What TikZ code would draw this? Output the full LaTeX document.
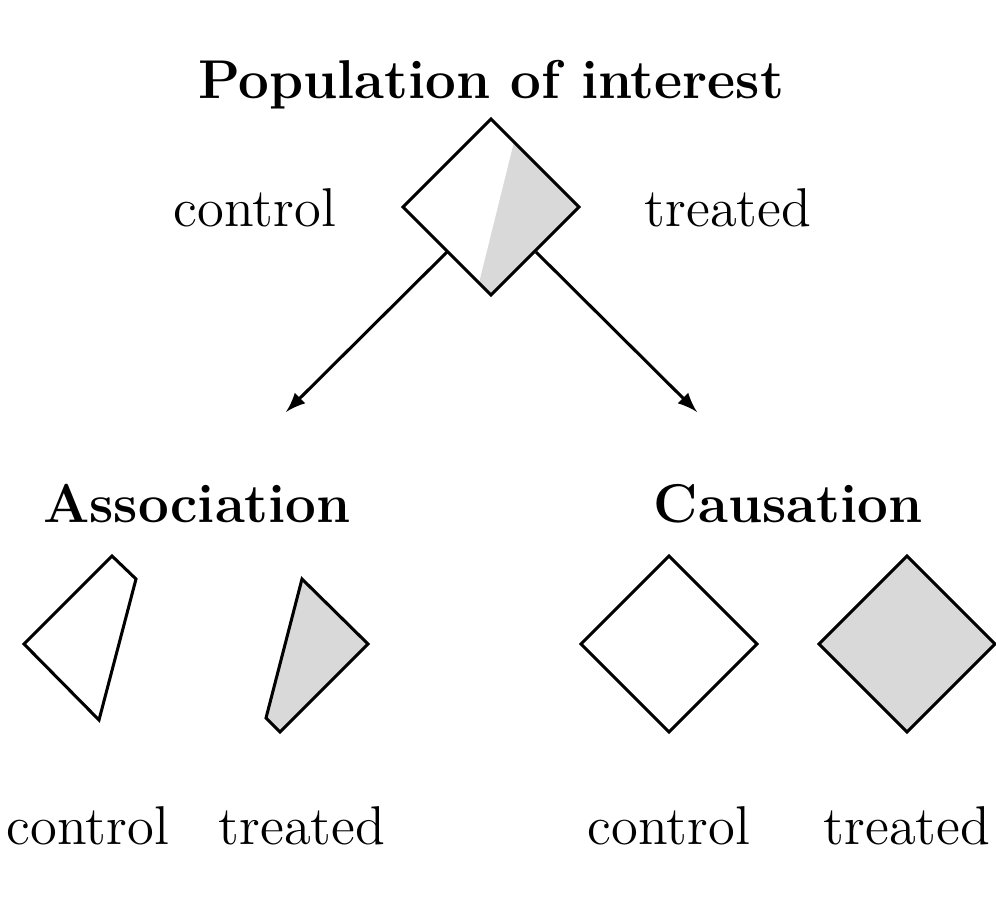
\documentclass[tikz,border=0pt]{standalone}
\usetikzlibrary{arrows.meta}
\usetikzlibrary{positioning}

\begin{document}
\begin{tikzpicture}[
    >=latex,
    x = 0.00926cm, y = -0.00926cm,
    piece/.style = {draw, black, thick, line join = miter},
    shade/.style = {fill = gray!30},
    lbl/.style = {font = \Large},
    head/.style = {font = \Large\bfseries},
  ]
  \useasboundingbox (0,0) rectangle (996,913);

  % population
  \node[head] (pop) at (491,85) {Population of interest};
  \fill[shade] (514,142) -- (579,207) -- (491,295) -- (479,283) -- cycle;
  \draw[piece] (491,119) -- (579,207) -- (491,295) -- (403,207) -- cycle;
  \node[lbl] (popc) at (255,208) {control};
  \node[lbl] (popt) at (728,208) {treated};

  \coordinate (outl) at (447,252);
  \coordinate (outr) at (536,252);
  \coordinate (inl) at (286,412);
  \coordinate (inr) at (697,412);
  \draw[thick, ->] (outl) -- (inl);
  \draw[thick, ->] (outr) -- (inr);

  % association
  \node[head] (assoc) at (197,504) {Association};
  \draw[piece] (24,644) -- (112,556) -- (136,579) -- (99,720) -- cycle;
  \draw[piece, shade] (302,579) -- (368,644) -- (280,732) -- (266,718) -- cycle;
  \node[lbl] (assocc) at (88,826) {control};
  \node[lbl] (assoct) at (302,826) {treated};

  % causation
  \node[head] (caus) at (788,504) {Causation};
  \draw[piece] (669,556) -- (757,644) -- (669,732) -- (581,644) -- cycle;
  \draw[piece, shade] (907,556) -- (995,644) -- (907,732) -- (819,644) -- cycle;
  \node[lbl] (causc) at (669,826) {control};
  \node[lbl] (caust) at (907,826) {treated};
\end{tikzpicture}
\end{document}
